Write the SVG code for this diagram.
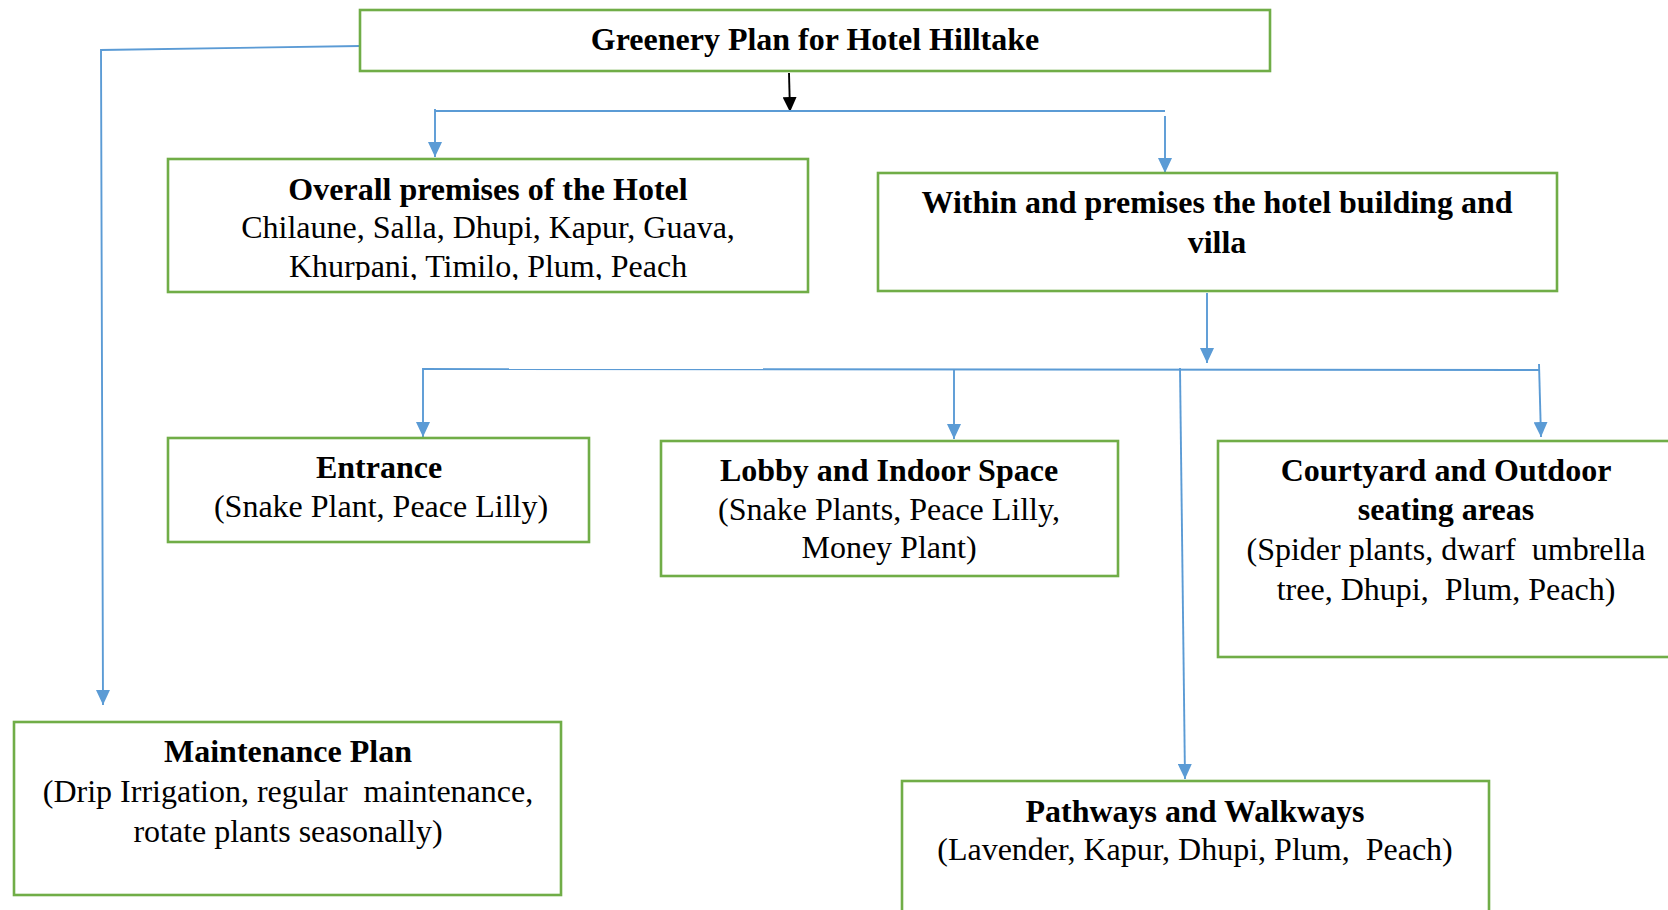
<svg xmlns="http://www.w3.org/2000/svg" width="1668" height="910" viewBox="0 0 1668 910">
<style>
.box{fill:#fff;stroke:#70AD47;stroke-width:2.6}
.c{fill:none;stroke:#5B9BD5;stroke-width:1.9}
.k{fill:none;stroke:#000;stroke-width:1.9}
text{font-family:"Liberation Serif","Times New Roman",serif;font-size:32px;fill:#000;text-anchor:middle;white-space:pre}
.b{font-weight:bold}
</style>
<defs>
<marker id="ab" markerWidth="15" markerHeight="14" refX="15" refY="7" orient="auto" markerUnits="userSpaceOnUse"><path d="M0,0 L15,7 L0,14 z" fill="#5B9BD5"/></marker>
<marker id="ak" markerWidth="15" markerHeight="14" refX="15" refY="7" orient="auto" markerUnits="userSpaceOnUse"><path d="M0,0 L15,7 L0,14 z" fill="#000"/></marker>
<clipPath id="clipOverall"><rect x="168" y="159" width="640" height="121"/></clipPath>
</defs>
<rect width="1668" height="910" fill="#fff"/>
<g id="connectors">
<polyline class="c" points="360,46 101,50 103,705" marker-end="url(#ab)"/>
<line class="k" x1="789" y1="73" x2="790" y2="112" marker-end="url(#ak)"/>
<line class="c" x1="435" y1="111" x2="1165" y2="111"/>
<line class="c" x1="435" y1="109" x2="435" y2="157" marker-end="url(#ab)"/>
<line class="c" x1="1165" y1="116" x2="1165" y2="173" marker-end="url(#ab)"/>
<line class="c" x1="1207" y1="293" x2="1207" y2="363" marker-end="url(#ab)"/>
<line class="c" x1="423" y1="369" x2="1539" y2="370"/>
<line class="c" x1="423" y1="368" x2="423" y2="437" marker-end="url(#ab)"/>
<line class="c" x1="954" y1="369" x2="954" y2="439" marker-end="url(#ab)"/>
<line class="c" x1="1180" y1="368" x2="1185" y2="779" marker-end="url(#ab)"/>
<line class="c" x1="1539" y1="364" x2="1541" y2="437" marker-end="url(#ab)"/>
</g>
<g id="node-title">
<rect class="box" x="360" y="10" width="910" height="61"/>
<text class="b" x="815" y="50">Greenery Plan for Hotel Hilltake</text>
</g>
<g id="node-overall">
<rect class="box" x="168" y="159" width="640" height="133"/>
<g clip-path="url(#clipOverall)">
<text class="b" x="488" y="200">Overall premises of the Hotel</text>
<text x="488" y="238">Chilaune, Salla, Dhupi, Kapur, Guava,</text>
<text x="488" y="277">Khurpani, Timilo, Plum, Peach</text>
</g>
</g>
<g id="node-within">
<rect class="box" x="878" y="173" width="679" height="118"/>
<text class="b" x="1217" y="213">Within and premises the hotel building and</text>
<text class="b" x="1217" y="253">villa</text>
</g>
<g id="node-entrance">
<rect class="box" x="168" y="438" width="421" height="104"/>
<text class="b" x="379" y="478">Entrance</text>
<text x="381" y="517">(Snake Plant, Peace Lilly)</text>
</g>
<g id="node-lobby">
<rect class="box" x="661" y="441" width="457" height="135"/>
<text class="b" x="889" y="481">Lobby and Indoor Space</text>
<text x="889" y="520">(Snake Plants, Peace Lilly,</text>
<text x="889" y="558">Money Plant)</text>
</g>
<g id="node-courtyard">
<rect class="box" x="1218" y="441" width="470" height="216"/>
<text class="b" x="1446" y="481">Courtyard and Outdoor</text>
<text class="b" x="1446" y="520">seating areas</text>
<text x="1446" y="560">(Spider plants, dwarf  umbrella</text>
<text x="1446" y="600">tree, Dhupi,  Plum, Peach)</text>
</g>
<g id="node-maintenance">
<rect class="box" x="14" y="722" width="547" height="173"/>
<text class="b" x="288" y="762">Maintenance Plan</text>
<text x="288" y="802">(Drip Irrigation, regular  maintenance,</text>
<text x="288" y="842">rotate plants seasonally)</text>
</g>
<g id="node-pathways">
<rect class="box" x="902" y="781" width="587" height="160"/>
<text class="b" x="1195" y="822">Pathways and Walkways</text>
<text x="1195" y="860">(Lavender, Kapur, Dhupi, Plum,  Peach)</text>
</g>
</svg>
